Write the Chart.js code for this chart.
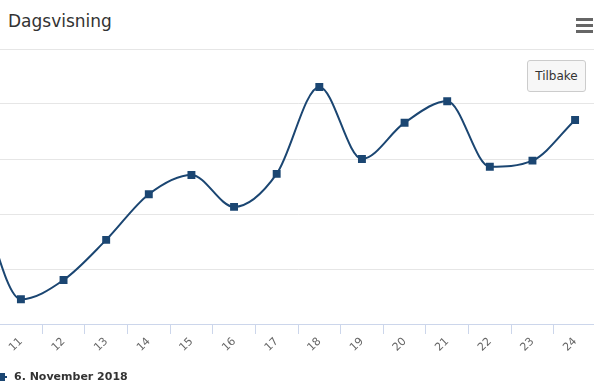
<!DOCTYPE html>
<html>
<head>
<meta charset="utf-8">
<script src="https://cdn.jsdelivr.net/npm/chart.js@4"></script>
<style>
  html, body { margin: 0; padding: 0; background: #fff; }
  body { width: 594px; height: 388px; position: relative; overflow: hidden;
         font-family: "Lucida Grande", "DejaVu Sans", sans-serif; }
  #title { position: absolute; left: 8px; top: 11px; font-size: 17px; color: #333; }
  #menu { position: absolute; left: 576px; top: 18px; width: 17px; }
  #menu div { height: 3px; background: #666; margin-bottom: 3px; }
  #back { position: absolute; left: 527px; top: 60px; width: 57px; height: 30px;
          border: 1px solid #ccc; border-radius: 3px; background: #f7f7f7;
          font-size: 12px; color: #333; text-align: center; line-height: 30px; }
  #chart { position: absolute; left: -6px; top: 0; }
  #legend { position: absolute; left: 0; top: 370px; font-size: 11px; font-weight: bold; color: #333; }
  #legend .sym { position: absolute; left: -8px; top: 6px; width: 15px; height: 2px; background: #1b4672; }
  #legend .box { position: absolute; left: -3px; top: 3px; width: 8px; height: 8px; background: #1b4672; }
  #legend span { position: absolute; left: 14px; top: 0; white-space: nowrap; }
</style>
</head>
<body>
<div id="title">Dagsvisning</div>
<div id="menu"><div></div><div></div><div></div></div>
<canvas id="chart" width="608" height="388"></canvas>
<div id="back">Tilbake</div>
<div id="legend"><div class="sym"></div><div class="box"></div><span id="legend-text"></span></div>
<script>
const days = ['10', '11', '12', '13', '14', '15', '16', '17', '18', '19', '20', '21', '22', '23', '24'];
const values = [23.5, 4.5, 8.0, 15.3, 23.6, 27.1, 21.3, 27.3, 43.1, 30.0, 36.6, 40.5, 28.6, 29.7, 37.1];
const seriesName = '6. November 2018';
const firstDay = '11';
const yMax = 50;
const yStep = 10;

const lineColor = '#1b4672';
document.getElementById('legend-text').innerText = seriesName;

Chart.defaults.font.family = '"Lucida Grande", "DejaVu Sans", sans-serif';

const ctx = document.getElementById('chart').getContext('2d');
new Chart(ctx, {
    type: 'line',
    data: {
        labels: days,
        datasets: [{
            label: seriesName,
            data: values,
            borderColor: lineColor,
            backgroundColor: lineColor,
            borderWidth: 2,
            cubicInterpolationMode: 'monotone',
            pointStyle: 'rect',
            pointRadius: 5.6,
            pointBorderWidth: 0,
            fill: false
        }]
    },
    options: {
        responsive: false,
        animation: false,
        layout: { padding: { top: 49, left: 0, right: 0, bottom: 0 } },
        scales: {
            x: {
                type: 'category',
                min: firstDay,
                offset: true,
                grid: {
                    offset: true,
                    drawOnChartArea: false,
                    drawTicks: true,
                    tickLength: 10,
                    color: '#ccd6eb'
                },
                border: { color: '#ccd6eb', width: 1 },
                ticks: {
                    color: '#666',
                    font: { size: 11 },
                    minRotation: 45,
                    maxRotation: 45,
                    autoSkip: false,
                    padding: 1
                },
                afterFit: (scale) => { scale.height = 64; }
            },
            y: {
                min: 0,
                max: yMax,
                ticks: { display: false, stepSize: yStep },
                grid: { color: '#e6e6e6', drawTicks: false },
                border: { display: false },
                afterFit: (scale) => { scale.width = 0; }
            }
        },
        plugins: {
            legend: { display: false },
            tooltip: { enabled: false }
        }
    }
});
</script>
</body>
</html>
